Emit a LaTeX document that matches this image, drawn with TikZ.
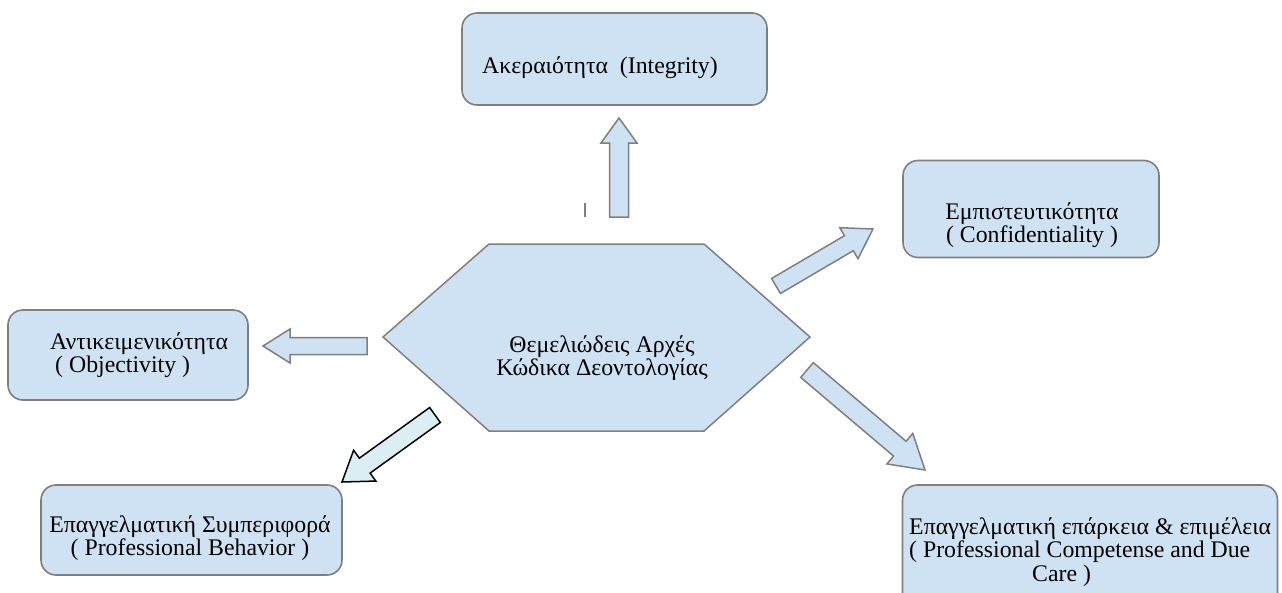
\documentclass[tikz,border=0pt]{standalone}
\usepackage{fontspec}
\setmainfont{Liberation Serif}
\newfontfamily\boxfont{Liberation Serif}
\usepackage{tikz}
\usepackage{xcolor}
\usetikzlibrary{calc, positioning}
\definecolor{Code_Blue}{HTML}{CFE2F3}
\definecolor{Code_Edge}{HTML}{7F7F7F}
\definecolor{Code_Pale}{HTML}{DAEEF3}

% fat arrow: [style]{tail}{tip}{shaft half width}{head half width}{head length}
\newcommand{\fatarrow}[6][]{%
    \coordinate (hb) at ($(#3)!#6!(#2)$);
    \draw[#1] ($(#2)!#4!90:(#3)$) -- ($(hb)!#4!90:(#3)$) -- ($(hb)!#5!90:(#3)$)
        -- (#3) -- ($(hb)!#5!-90:(#3)$) -- ($(hb)!#4!-90:(#3)$)
        -- ($(#2)!#4!-90:(#3)$) -- cycle;
}

\begin{document}
\begin{tikzpicture}[x=1pt, y=-1pt,
    box/.style={draw=Code_Edge, fill=Code_Blue, line width=1.6pt, rounded corners=15pt, inner sep=0pt},
    lbl/.style={font=\boxfont\fontsize{23.8}{23.3}\selectfont, inner sep=0pt, align=center},
    fat/.style={draw=Code_Edge, fill=Code_Blue, line width=1.5pt, line join=miter},
    fatdark/.style={draw=black, fill=Code_Pale, line width=1.5pt, line join=miter}]
    \useasboundingbox (0,0) rectangle (1282,592);

    % Boxes
    \node[box, minimum width=305pt, minimum height=92pt] (integ) at (614.5,59) {};
    \node[lbl] (integT) at (600,68) {Ακεραιότητα\ \ (Integrity)};
    \node[box, minimum width=256pt, minimum height=97pt] (confid) at (1031,209) {};
    \node[lbl] (confidT) at (1032,225) {Εμπιστευτικότητα\\( Confidentiality )};
    \node[box, minimum width=240pt, minimum height=90pt] (objec) at (128,355) {};
    \node[lbl, align=left, anchor=west] (objecT) at (50,355) {Αντικειμενικότητα\\\hspace*{5pt}( Objectivity )};
    \node[box, minimum width=301pt, minimum height=90pt] (behav) at (191.5,530) {};
    \node[lbl] (behavT) at (190,538) {Επαγγελματική Συμπεριφορά\\( Professional Behavior )};
    \node[box, minimum width=375pt, minimum height=130pt] (compet) at (1090,550) {};
    \node[lbl, align=left, anchor=west] (competT) at (909,552) {Επαγγελματική επάρκεια \& επιμέλεια\\( Professional Competense and Due\\\hspace*{123pt}Care )};

    % Centre
    \draw[fat] (383,337) -- (489,244) -- (704,244) -- (810,337) -- (704,431) -- (489,431) -- cycle;
    \node[lbl] (core) at (602,358) {Θεμελιώδεις Αρχές\\Κώδικα Δεοντολογίας};

    % Arrows
    \coordinate (upTail) at (619,217); \coordinate (upTip) at (619,118);
    \coordinate (leftTail) at (367,346); \coordinate (leftTip) at (263,346);
    \coordinate (neTail) at (776,286); \coordinate (neTip) at (873,229);
    \coordinate (seTail) at (807,370); \coordinate (seTip) at (925,470);
    \coordinate (swTail) at (435,415); \coordinate (swTip) at (342,482);
    \fatarrow[fat]{upTail}{upTip}{9.5pt}{18pt}{25pt}
    \fatarrow[fat]{leftTail}{leftTip}{8.5pt}{17pt}{27pt}
    \fatarrow[fat]{neTail}{neTip}{8.7pt}{18pt}{28pt}
    \fatarrow[fat]{seTail}{seTip}{9.7pt}{20pt}{33pt}
    \fatarrow[fatdark]{swTail}{swTip}{9.2pt}{19pt}{28pt}
    \draw[Code_Edge, line width=2pt] (585,217) -- (585,203);
\end{tikzpicture}
\end{document}
